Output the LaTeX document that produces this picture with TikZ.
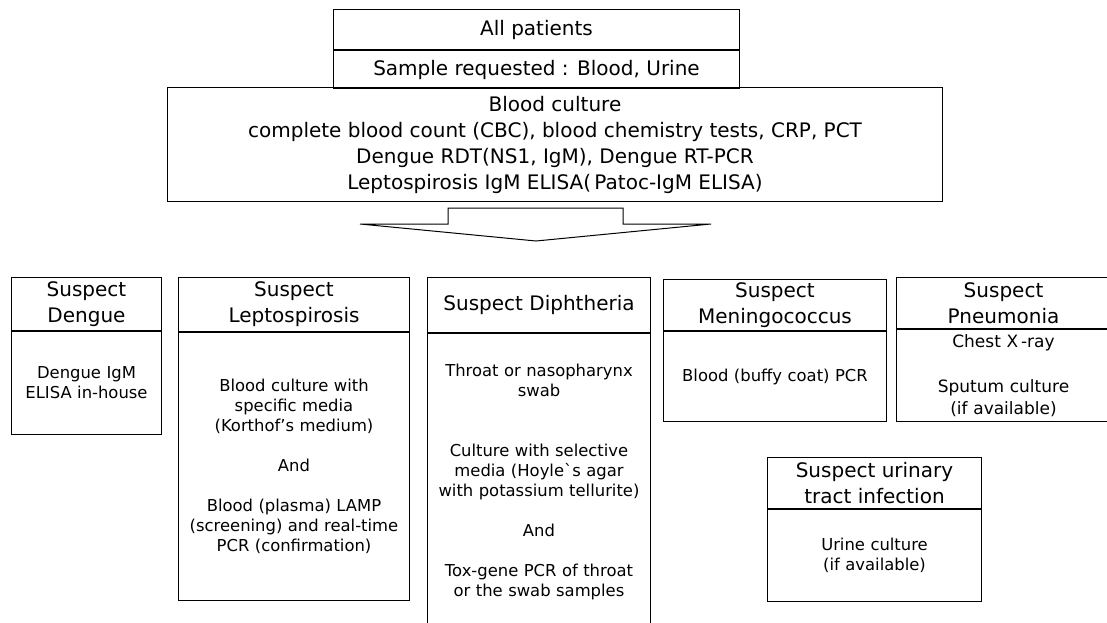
\documentclass[tikz,border=0pt]{standalone}
\usepackage{fontspec}
\setmainfont{DejaVu Sans}
\usetikzlibrary{positioning}

\begin{document}
\begin{tikzpicture}[
  x=1pt, y=-1pt,
  topbox/.style={rectangle, draw, line width=1pt, inner sep=0pt, align=center, font=\fontsize{20}{26}\selectfont},
  hdbox/.style={rectangle, draw, line width=1pt, inner sep=0pt, align=center, anchor=north west, font=\fontsize{20}{26}\selectfont},
  bdbox/.style={rectangle, draw, line width=1pt, inner sep=0pt, align=center, minimum width=#1, text width=#1, font=\fontsize{16.4}{20}\selectfont},
  bigarrow/.style={draw, line width=1pt, line join=miter}
]
\useasboundingbox (0,0) rectangle (1107,623);

% Samples for all patients
\node[topbox, anchor=north west, minimum width=406pt, minimum height=40pt] (all_node) at (333,9) {All patients};
\node[topbox, below=0pt of all_node, minimum width=406pt, minimum height=38pt] (sample_node) {Sample requested : Blood, Urine};
\node[topbox, anchor=north west, minimum width=775pt, minimum height=114pt] (tests_node) at (167,87) {Blood culture\\complete blood count (CBC), blood chemistry tests, CRP, PCT\\Dengue RDT(NS1, IgM), Dengue RT-PCR\\Leptospirosis IgM ELISA(\,Patoc-IgM ELISA)};

% Big arrow
\draw[bigarrow] (448,208) -- (623,208) -- (623,224) -- (711,224) -- (536,241) -- (360,224) -- (448,224) -- cycle;

% Suspected diseases
\node[hdbox, minimum width=150pt, minimum height=53pt] (dengue_hd) at (11,277) {Suspect\\Dengue};
\node[bdbox=150pt, below=0pt of dengue_hd, minimum height=103pt] (dengue_bd) {Dengue IgM\\ELISA in-house};

\node[hdbox, minimum width=231pt, minimum height=54pt] (lepto_hd) at (178,277) {Suspect\\Leptospirosis};
\node[bdbox=231pt, below=0pt of lepto_hd, minimum height=268pt] (lepto_bd) {Blood culture with\\specific media\\(Korthof’s medium)\\~\\And\\~\\Blood (plasma) LAMP\\(screening) and real-time\\PCR (confirmation)};

\node[hdbox, minimum width=223pt, minimum height=55pt] (diph_hd) at (427,277) {Suspect Diphtheria};
\node[bdbox=223pt, below=0pt of diph_hd, minimum height=296pt] (diph_bd) {Throat or nasopharynx\\swab\\~\\~\\Culture with selective\\media (Hoyle\textasciigrave s agar\\with potassium tellurite)\\~\\And\\~\\Tox-gene PCR of throat\\or the swab samples};

\node[hdbox, minimum width=223pt, minimum height=51pt] (menin_hd) at (663,279) {Suspect\\Meningococcus};
\node[bdbox=223pt, below=0pt of menin_hd, minimum height=90pt] (menin_bd) {Blood (buffy coat) PCR};

\node[hdbox, minimum width=214pt, minimum height=51pt] (pneum_hd) at (896,277) {Suspect\\Pneumonia};
\node[bdbox=214pt, below=0pt of pneum_hd, minimum height=92pt, font=\fontsize{17}{22.5}\selectfont] (pneum_bd) {Chest X\,-ray\\~\\Sputum culture\\(if available)};

\node[hdbox, minimum width=214pt, minimum height=51pt] (uti_hd) at (767,457) {Suspect urinary\\tract infection};
\node[bdbox=214pt, below=0pt of uti_hd, minimum height=92pt] (uti_bd) {Urine culture\\(if available)};

\end{tikzpicture}
\end{document}
